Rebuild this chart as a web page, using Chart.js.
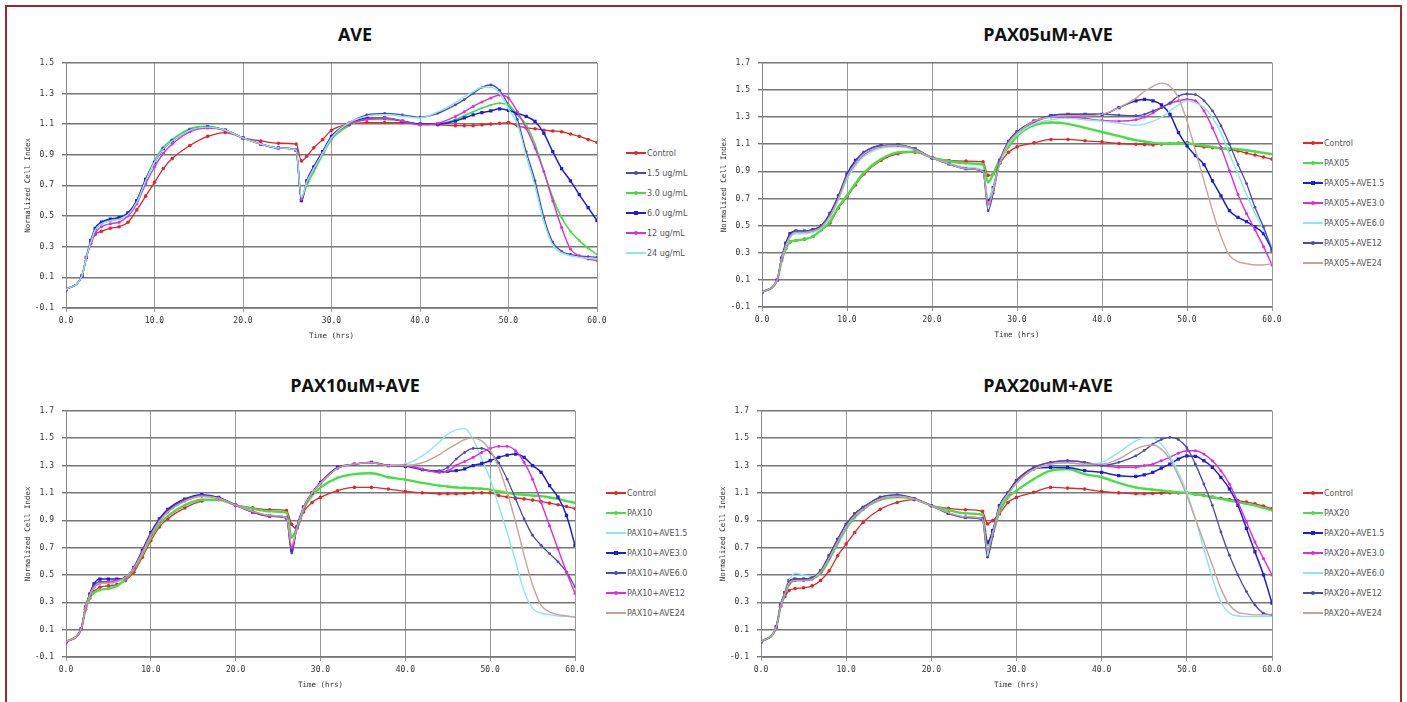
<!DOCTYPE html>
<html>
<head>
<meta charset="utf-8">
<title>Normalized Cell Index</title>
<script src="https://cdn.jsdelivr.net/npm/chart.js@4.4.0/dist/chart.umd.min.js"></script>
<style>
  html, body { margin: 0; padding: 0; background: #fff; }
  body { width: 1407px; height: 702px; position: relative; overflow: hidden; font-family: "DejaVu Sans", sans-serif; }
  .frame { position: absolute; left: 5px; top: 5px; width: 1393px; height: 720px; border: 2px solid #9b2b2b; }
  .panel-title { position: absolute; transform: translate(-50%, -50%); font-family: "Open Sans", sans-serif; font-weight: 700; font-size: 18px; color: #111; white-space: nowrap; }
  canvas { position: absolute; }
  .legend { position: absolute; font-size: 8px; color: #555; }
  .legend .row { height: 20px; display: flex; align-items: center; white-space: nowrap; }
  .legend .key { position: relative; width: 20px; height: 8px; margin-right: 1px; }
  .legend .key .ln { position: absolute; left: 0; right: 0; top: 3px; height: 1.5px; }
  .legend .key .pt { position: absolute; left: 8px; top: 2px; width: 4px; height: 4px; border-radius: 50%; }
</style>
</head>
<body>
<div class="frame"></div>

<div class="panel-title" style="left:355px; top:34px">AVE</div>
<div class="panel-title" style="left:1048px; top:34px">PAX05uM+AVE</div>
<div class="panel-title" style="left:355px; top:385px">PAX10uM+AVE</div>
<div class="panel-title" style="left:1048px; top:385px">PAX20uM+AVE</div>

<canvas id="chartAve"></canvas>
<canvas id="chartPax05"></canvas>
<canvas id="chartPax10"></canvas>
<canvas id="chartPax20"></canvas>

<div class="legend" id="legendAve"></div>
<div class="legend" id="legendPax05"></div>
<div class="legend" id="legendPax10"></div>
<div class="legend" id="legendPax20"></div>

<script>
// time points (hrs), shared by every series
const hours = [0, 1.8, 2.3, 2.8, 3.3, 4, 5, 6, 7, 8, 9, 10, 11, 12, 14, 16, 18, 20, 22, 24, 26,
  26.6, 27.2, 28, 29, 30, 32, 34, 36, 38, 40, 42, 44, 45, 46, 47, 48, 49, 50, 51, 52, 53, 54, 55, 56, 57, 58, 59, 60];

const xTicks = [0, 10, 20, 30, 40, 50, 60];

// ---- AVE ----
const aveLabels = ["Control", "1.5 ug/mL", "3.0 ug/mL", "6.0 ug/mL", "12 ug/mL", "24 ug/mL"];
const aveControl = [0.02, 0.11, 0.23, 0.32, 0.38,
  0.40, 0.42, 0.43, 0.46, 0.54, 0.63, 0.72, 0.81, 0.875,
  0.96, 1.02, 1.045, 1.01, 0.99, 0.975, 0.97,
  0.86, 0.89, 0.945, 1.0, 1.06,
  1.10, 1.11, 1.11, 1.11, 1.10, 1.095, 1.09,
  1.09, 1.09, 1.095, 1.10, 1.105, 1.11, 1.09, 1.075, 1.07, 1.06, 1.055, 1.05, 1.035, 1.02, 1.0, 0.98];
const ave15 = [0.02, 0.11, 0.23, 0.33, 0.41,
  0.45, 0.47, 0.485, 0.52, 0.60, 0.74, 0.85, 0.94, 0.99,
  1.06, 1.085, 1.06, 1.01, 0.97, 0.945, 0.93,
  0.60, 0.72, 0.82, 0.92, 1.02,
  1.11, 1.16, 1.17, 1.16, 1.145, 1.17, 1.225,
  1.26, 1.30, 1.34, 1.355, 1.32, 1.225, 1.13, 0.92, 0.73, 0.49, 0.33, 0.27, 0.25, 0.24, 0.235, 0.23];
const ave30 = [0.02, 0.11, 0.23, 0.33, 0.41,
  0.45, 0.47, 0.48, 0.51, 0.60, 0.74, 0.86, 0.95, 1.00,
  1.07, 1.085, 1.06, 1.01, 0.97, 0.945, 0.93,
  0.62, 0.70, 0.79, 0.90, 1.00,
  1.09, 1.13, 1.13, 1.12, 1.10, 1.10, 1.13,
  1.155, 1.18, 1.205, 1.225, 1.236, 1.225, 1.16, 1.095, 0.966, 0.79, 0.62, 0.49, 0.40, 0.34, 0.29, 0.25];
const ave60 = [0.02, 0.11, 0.23, 0.34, 0.42,
  0.46, 0.48, 0.49, 0.52, 0.60, 0.74, 0.85, 0.94, 0.99,
  1.06, 1.08, 1.06, 1.01, 0.97, 0.945, 0.93,
  0.60, 0.73, 0.82, 0.92, 1.02,
  1.10, 1.14, 1.14, 1.12, 1.10, 1.10, 1.12,
  1.14, 1.16, 1.175, 1.186, 1.20, 1.19, 1.17, 1.15, 1.117, 1.04, 0.92, 0.81, 0.73, 0.64, 0.555, 0.47];
const ave12 = [0.02, 0.11, 0.23, 0.32, 0.39,
  0.43, 0.45, 0.46, 0.50, 0.58, 0.71, 0.82, 0.91, 0.97,
  1.05, 1.075, 1.06, 1.01, 0.97, 0.945, 0.93,
  0.61, 0.72, 0.81, 0.91, 1.01,
  1.10, 1.13, 1.14, 1.12, 1.095, 1.105, 1.15,
  1.18, 1.215, 1.245, 1.27, 1.29, 1.27, 1.18, 1.074, 0.944, 0.79, 0.60, 0.425, 0.285, 0.24, 0.22, 0.21];
const ave24 = [0.02, 0.11, 0.23, 0.33, 0.41,
  0.45, 0.47, 0.48, 0.51, 0.59, 0.73, 0.85, 0.94, 0.99,
  1.06, 1.08, 1.06, 1.01, 0.97, 0.945, 0.93,
  0.62, 0.72, 0.81, 0.91, 1.01,
  1.11, 1.15, 1.16, 1.15, 1.14, 1.18, 1.24,
  1.28, 1.31, 1.34, 1.34, 1.30, 1.20, 1.10, 0.89, 0.69, 0.46, 0.31, 0.26, 0.24, 0.23, 0.225, 0.22];

// ---- PAX05uM+AVE ----
const pax05Labels = ["Control", "PAX05", "PAX05+AVE1.5", "PAX05+AVE3.0", "PAX05+AVE6.0", "PAX05+AVE12", "PAX05+AVE24"];
const p05Control = [0.01, 0.10, 0.24, 0.33, 0.38,
  0.39, 0.40, 0.42, 0.47, 0.52, 0.63, 0.71, 0.80, 0.88,
  0.98, 1.03, 1.04, 1.00, 0.98, 0.975, 0.97,
  0.87, 0.88, 0.96, 1.04, 1.08,
  1.11, 1.135, 1.135, 1.125, 1.117, 1.105, 1.10,
  1.097, 1.095, 1.10, 1.105, 1.108, 1.112, 1.09, 1.08, 1.075, 1.07, 1.06, 1.05, 1.035, 1.02, 1.005, 0.99];
const p05 = [0.01, 0.10, 0.24, 0.33, 0.38,
  0.39, 0.40, 0.42, 0.47, 0.53, 0.64, 0.72, 0.81, 0.89,
  0.99, 1.04, 1.045, 1.00, 0.975, 0.96, 0.95,
  0.82, 0.88, 0.99, 1.08, 1.16,
  1.24, 1.26, 1.25, 1.22, 1.19, 1.16, 1.13,
  1.12, 1.11, 1.105, 1.105, 1.105, 1.105, 1.10, 1.09, 1.08, 1.07, 1.067, 1.063, 1.055, 1.046, 1.036, 1.027];
const p05Ave15 = [0.01, 0.10, 0.26, 0.37, 0.44,
  0.46, 0.46, 0.47, 0.50, 0.59, 0.72, 0.88, 0.98, 1.04,
  1.09, 1.095, 1.065, 1.00, 0.955, 0.92, 0.90,
  0.69, 0.78, 0.98, 1.12, 1.19,
  1.27, 1.31, 1.32, 1.32, 1.32, 1.37, 1.42,
  1.43, 1.42, 1.39, 1.32, 1.185, 1.088, 1.015, 0.95, 0.83, 0.72, 0.61, 0.56, 0.53, 0.49, 0.44, 0.32];
const p05Ave30 = [0.01, 0.10, 0.25, 0.35, 0.42,
  0.45, 0.45, 0.46, 0.49, 0.57, 0.70, 0.85, 0.95, 1.02,
  1.08, 1.09, 1.06, 1.00, 0.955, 0.92, 0.90,
  0.66, 0.76, 0.97, 1.11, 1.18,
  1.26, 1.30, 1.30, 1.29, 1.275, 1.27, 1.28,
  1.30, 1.33, 1.37, 1.40, 1.42, 1.43, 1.42, 1.345, 1.22, 1.075, 0.905, 0.73, 0.59, 0.47, 0.345, 0.21];
const p05Ave60 = [0.01, 0.10, 0.25, 0.34, 0.41,
  0.44, 0.44, 0.45, 0.48, 0.56, 0.69, 0.84, 0.94, 1.01,
  1.07, 1.08, 1.06, 1.00, 0.96, 0.93, 0.91,
  0.70, 0.78, 0.96, 1.10, 1.17,
  1.25, 1.28, 1.29, 1.28, 1.27, 1.255, 1.24,
  1.25, 1.27, 1.30, 1.345, 1.39, 1.42, 1.405, 1.37, 1.295, 1.185, 1.027, 0.88, 0.73, 0.59, 0.47, 0.345];
const p05Ave12 = [0.01, 0.10, 0.26, 0.36, 0.43,
  0.46, 0.46, 0.47, 0.50, 0.59, 0.72, 0.87, 0.97, 1.04,
  1.09, 1.09, 1.065, 1.00, 0.955, 0.92, 0.90,
  0.61, 0.74, 0.98, 1.12, 1.19,
  1.27, 1.31, 1.32, 1.32, 1.32, 1.315, 1.31,
  1.32, 1.345, 1.37, 1.405, 1.455, 1.47, 1.465, 1.42, 1.345, 1.235, 1.10, 0.95, 0.81, 0.635, 0.49, 0.32];
const p05Ave24 = [0.01, 0.10, 0.25, 0.35, 0.42,
  0.45, 0.45, 0.46, 0.49, 0.57, 0.70, 0.86, 0.96, 1.03,
  1.08, 1.09, 1.06, 1.00, 0.955, 0.92, 0.90,
  0.65, 0.76, 0.97, 1.11, 1.18,
  1.27, 1.30, 1.31, 1.31, 1.32, 1.37, 1.44,
  1.49, 1.527, 1.55, 1.527, 1.44, 1.27, 1.05, 0.83, 0.61, 0.42, 0.28, 0.235, 0.22, 0.21, 0.21, 0.22];

// ---- PAX10uM+AVE ----
const pax10Labels = ["Control", "PAX10", "PAX10+AVE1.5", "PAX10+AVE3.0", "PAX10+AVE6.0", "PAX10+AVE12", "PAX10+AVE24"];
const p10Control = [0.01, 0.107, 0.25, 0.33, 0.38,
  0.41, 0.42, 0.43, 0.46, 0.52, 0.63, 0.75, 0.85, 0.91,
  0.99, 1.04, 1.05, 1.01, 0.99, 0.977, 0.97,
  0.87, 0.84, 0.96, 1.03, 1.067,
  1.116, 1.14, 1.14, 1.128, 1.11, 1.10, 1.093,
  1.093, 1.093, 1.095, 1.10, 1.10, 1.10, 1.08, 1.07, 1.063, 1.056, 1.047, 1.037, 1.025, 1.013, 1.0, 0.984];
const p10 = [0.01, 0.107, 0.25, 0.33, 0.37,
  0.39, 0.40, 0.42, 0.47, 0.54, 0.65, 0.77, 0.87, 0.93,
  1.01, 1.05, 1.05, 1.01, 0.985, 0.965, 0.955,
  0.775, 0.84, 0.98, 1.08, 1.14,
  1.21, 1.237, 1.243, 1.214, 1.197, 1.173, 1.153,
  1.146, 1.14, 1.137, 1.134, 1.13, 1.124, 1.11, 1.10, 1.092, 1.085, 1.08, 1.076, 1.066, 1.056, 1.04, 1.027];
const p10Ave15 = [0.01, 0.107, 0.265, 0.36, 0.41,
  0.44, 0.44, 0.45, 0.48, 0.55, 0.67, 0.80, 0.90, 0.97,
  1.05, 1.08, 1.065, 1.01, 0.965, 0.935, 0.92,
  0.70, 0.84, 0.99, 1.10, 1.17,
  1.28, 1.31, 1.32, 1.30, 1.31, 1.37, 1.47,
  1.53, 1.56, 1.57, 1.49, 1.35, 1.20, 1.008, 0.81, 0.60, 0.38, 0.256, 0.22, 0.21, 0.20, 0.197, 0.195];
const p10Ave30 = [0.01, 0.107, 0.265, 0.36, 0.435,
  0.47, 0.47, 0.47, 0.48, 0.556, 0.68, 0.81, 0.91, 0.98,
  1.055, 1.087, 1.067, 1.01, 0.96, 0.93, 0.917,
  0.68, 0.85, 0.995, 1.10, 1.177,
  1.286, 1.31, 1.323, 1.30, 1.294, 1.27, 1.255,
  1.257, 1.262, 1.275, 1.30, 1.315, 1.335, 1.36, 1.376, 1.384, 1.36, 1.30, 1.25, 1.153, 1.068, 0.935, 0.717];
const p10Ave60 = [0.01, 0.107, 0.26, 0.36, 0.42,
  0.45, 0.45, 0.46, 0.48, 0.55, 0.67, 0.80, 0.90, 0.97,
  1.05, 1.08, 1.065, 1.01, 0.96, 0.93, 0.915,
  0.66, 0.84, 0.99, 1.10, 1.17,
  1.28, 1.31, 1.32, 1.30, 1.30, 1.27, 1.262,
  1.287, 1.347, 1.396, 1.425, 1.425, 1.396, 1.32, 1.20, 1.056, 0.91, 0.79, 0.717, 0.656, 0.596, 0.52, 0.414];
const p10Ave12 = [0.01, 0.107, 0.26, 0.35, 0.41,
  0.44, 0.45, 0.46, 0.48, 0.55, 0.67, 0.79, 0.89, 0.96,
  1.04, 1.075, 1.06, 1.01, 0.965, 0.935, 0.92,
  0.70, 0.84, 0.99, 1.10, 1.17,
  1.28, 1.31, 1.32, 1.30, 1.30, 1.275, 1.25,
  1.26, 1.30, 1.33, 1.36, 1.396, 1.425, 1.44, 1.44, 1.408, 1.323, 1.20, 1.032, 0.86, 0.69, 0.52, 0.365];
const p10Ave24 = [0.01, 0.107, 0.26, 0.35, 0.41,
  0.44, 0.44, 0.45, 0.48, 0.55, 0.66, 0.79, 0.89, 0.96,
  1.04, 1.075, 1.06, 1.01, 0.965, 0.935, 0.92,
  0.72, 0.84, 0.99, 1.10, 1.17,
  1.28, 1.31, 1.32, 1.30, 1.30, 1.32, 1.38,
  1.42, 1.456, 1.49, 1.50, 1.48, 1.41, 1.287, 1.105, 0.887, 0.644, 0.426, 0.28, 0.23, 0.21, 0.20, 0.19];

// ---- PAX20uM+AVE ----
const pax20Labels = ["Control", "PAX20", "PAX20+AVE1.5", "PAX20+AVE3.0", "PAX20+AVE6.0", "PAX20+AVE12", "PAX20+AVE24"];
const p20Control = [0.01, 0.12, 0.27, 0.34, 0.386,
  0.40, 0.406, 0.42, 0.46, 0.53, 0.64, 0.727, 0.81, 0.885,
  0.98, 1.03, 1.05, 1.007, 0.987, 0.977, 0.965,
  0.873, 0.897, 0.945, 1.03, 1.067,
  1.104, 1.14, 1.135, 1.128, 1.11, 1.10, 1.093,
  1.093, 1.095, 1.097, 1.10, 1.10, 1.10, 1.09, 1.08, 1.07, 1.06, 1.052, 1.044, 1.032, 1.02, 1.003, 0.984];
const p20 = [0.01, 0.12, 0.27, 0.36, 0.43,
  0.46, 0.46, 0.47, 0.51, 0.61, 0.73, 0.84, 0.92, 0.98,
  1.05, 1.07, 1.055, 1.007, 0.975, 0.95, 0.94,
  0.72, 0.80, 0.96, 1.067, 1.116,
  1.20, 1.262, 1.275, 1.237, 1.214, 1.173, 1.14,
  1.13, 1.124, 1.117, 1.11, 1.105, 1.10, 1.09, 1.08, 1.068, 1.056, 1.044, 1.032, 1.02, 1.008, 0.99, 0.972];
const p20Ave15 = [0.01, 0.12, 0.28, 0.37, 0.46,
  0.47, 0.47, 0.48, 0.53, 0.64, 0.76, 0.87, 0.946, 0.994,
  1.067, 1.08, 1.055, 1.007, 0.95, 0.92, 0.91,
  0.74, 0.824, 1.006, 1.10, 1.19,
  1.275, 1.286, 1.286, 1.262, 1.25, 1.226, 1.22,
  1.232, 1.25, 1.28, 1.31, 1.347, 1.37, 1.367, 1.335, 1.287, 1.214, 1.13, 1.008, 0.84, 0.668, 0.50, 0.293];
const p20Ave30 = [0.01, 0.12, 0.27, 0.36, 0.44,
  0.46, 0.46, 0.47, 0.52, 0.62, 0.74, 0.85, 0.93, 0.98,
  1.055, 1.075, 1.055, 1.007, 0.955, 0.925, 0.91,
  0.68, 0.80, 0.99, 1.09, 1.18,
  1.28, 1.323, 1.335, 1.323, 1.30, 1.287, 1.287,
  1.30, 1.31, 1.335, 1.36, 1.39, 1.408, 1.408, 1.384, 1.335, 1.262, 1.165, 1.032, 0.887, 0.74, 0.62, 0.50];
const p20Ave60 = [0.01, 0.12, 0.28, 0.374, 0.46,
  0.513, 0.50, 0.49, 0.53, 0.63, 0.75, 0.86, 0.94, 0.99,
  1.06, 1.075, 1.055, 1.007, 0.95, 0.92, 0.905,
  0.66, 0.80, 0.99, 1.09, 1.17,
  1.27, 1.31, 1.32, 1.31, 1.323, 1.396, 1.48,
  1.50, 1.50, 1.456, 1.37, 1.25, 1.105, 0.91, 0.69, 0.475, 0.30, 0.22, 0.20, 0.197, 0.195, 0.195, 0.195];
const p20Ave12 = [0.01, 0.12, 0.28, 0.37, 0.45,
  0.47, 0.47, 0.48, 0.53, 0.64, 0.76, 0.87, 0.946, 0.994,
  1.067, 1.087, 1.06, 1.007, 0.95, 0.92, 0.905,
  0.63, 0.78, 1.0, 1.10, 1.19,
  1.286, 1.323, 1.335, 1.323, 1.30, 1.323, 1.37,
  1.41, 1.456, 1.49, 1.505, 1.49, 1.43, 1.31, 1.165, 1.008, 0.814, 0.644, 0.50, 0.378, 0.28, 0.22, 0.208];
const p20Ave24 = [0.01, 0.12, 0.27, 0.36, 0.44,
  0.46, 0.46, 0.47, 0.52, 0.62, 0.74, 0.85, 0.93, 0.98,
  1.055, 1.075, 1.055, 1.007, 0.955, 0.925, 0.91,
  0.68, 0.80, 0.99, 1.09, 1.17,
  1.27, 1.31, 1.32, 1.31, 1.31, 1.347, 1.42,
  1.444, 1.45, 1.42, 1.347, 1.226, 1.08, 0.91, 0.74, 0.57, 0.40, 0.28, 0.227, 0.215, 0.208, 0.208, 0.208];

// line looks, Excel-ish
const looks = {
  red:     { color: "#e3262b", width: 1.3, radius: 1.8, shape: "circle" },
  slate:   { color: "#4b4bb0", width: 1.3, radius: 1.4, shape: "circle" },
  green:   { color: "#3ee23e", width: 1.6, radius: 1.2, shape: "circle" },
  greenPx: { color: "#45e045", width: 2.4, radius: 1.2, shape: "circle" },
  blue:    { color: "#1c1ce0", width: 1.5, radius: 2.3, shape: "rect" },
  magenta: { color: "#e02be0", width: 1.4, radius: 1.5, shape: "circle" },
  cyan:    { color: "#8ae8ea", width: 1.4, radius: 0, shape: "circle" },
  brown:   { color: "#c8a39a", width: 1.4, radius: 0, shape: "circle" },
};

function toDataset(label, values, look, i) {
  return {
    label,
    data: hours.map((t, k) => ({ x: t, y: values[k] })),
    borderColor: look.color,
    backgroundColor: look.color,
    borderWidth: look.width,
    pointRadius: look.radius,
    pointStyle: look.shape,
    pointBorderWidth: 0,
    cubicInterpolationMode: "monotone",
    order: -i, // later series on top, like Excel
  };
}

function makeLegend(id, datasets) {
  const box = document.getElementById(id);
  datasets.forEach((d) => {
    const row = document.createElement("div");
    row.className = "row";
    const key = document.createElement("span");
    key.className = "key";
    const ln = document.createElement("span");
    ln.className = "ln";
    ln.style.background = d.borderColor;
    key.appendChild(ln);
    if (d.pointRadius > 0) {
      const pt = document.createElement("span");
      pt.className = "pt";
      pt.style.background = d.borderColor;
      if (d.pointStyle === "rect") pt.style.borderRadius = "0";
      key.appendChild(pt);
    }
    const txt = document.createElement("span");
    txt.textContent = d.label;
    row.appendChild(key);
    row.appendChild(txt);
    box.appendChild(row);
  });
}

const tickFont = { family: "DejaVu Sans Mono", size: 8 };
const titleFont = { family: "DejaVu Sans Mono", size: 7.5 };

// box = where the canvas sits, plot = the wanted plot rectangle
function drawPanel(canvasId, legendId, legendPos, box, plot, yMax, labels, series, lookNames) {
  const canvas = document.getElementById(canvasId);
  canvas.width = box.w;
  canvas.height = box.h;
  canvas.style.left = box.x + "px";
  canvas.style.top = box.y + "px";

  const datasets = series.map((vals, i) => toDataset(labels[i], vals, looks[lookNames[i]], i));
  const yAxisWidth = plot.x1 - box.x;
  const xAxisHeight = box.y + box.h - plot.y2;

  new Chart(canvas, {
    type: "line",
    data: { datasets },
    options: {
      responsive: false,
      animation: false,
      events: [],
      layout: {
        padding: { left: 0, top: plot.y1 - box.y, right: box.x + box.w - plot.x2, bottom: 0 },
      },
      plugins: { legend: { display: false }, tooltip: { enabled: false } },
      scales: {
        x: {
          type: "linear",
          min: 0,
          max: 60,
          afterBuildTicks: (s) => { s.ticks = xTicks.map((v) => ({ value: v })); },
          afterFit: (s) => { s.height = xAxisHeight; },
          ticks: { font: tickFont, color: "#333", padding: 4, maxRotation: 0, callback: (v) => v.toFixed(1) },
          grid: { color: "#9a9a9a", lineWidth: 1, tickLength: 4 },
          border: { color: "#8a8a8a" },
          title: { display: true, text: "Time (hrs)", font: titleFont, color: "#333", padding: { top: 0, bottom: 9.5 } },
        },
        y: {
          min: -0.1,
          max: yMax,
          ticks: { stepSize: 0.2, font: tickFont, color: "#333", padding: 8, callback: (v) => v.toFixed(1) },
          afterFit: (s) => { s.width = yAxisWidth; },
          grid: { color: "#777", lineWidth: 1.4, tickLength: 4 },
          border: { color: "#8a8a8a" },
          title: { display: true, text: "Normalized Cell Index", font: titleFont, color: "#333", padding: { top: 13.5, bottom: 0 } },
        },
      },
    },
  });

  const lg = document.getElementById(legendId);
  lg.style.left = legendPos.x + "px";
  lg.style.top = legendPos.y + "px";
  makeLegend(legendId, datasets);
}

drawPanel("chartAve", "legendAve", { x: 626, y: 143 },
  { x: 10, y: 50, w: 612, h: 300 }, { x1: 66, y1: 62, x2: 597, y2: 308 }, 1.5,
  aveLabels, [aveControl, ave15, ave30, ave60, ave12, ave24],
  ["red", "slate", "green", "blue", "magenta", "cyan"]);

drawPanel("chartPax05", "legendPax05", { x: 1303, y: 133 },
  { x: 706, y: 50, w: 590, h: 299 }, { x1: 762, y1: 62, x2: 1272, y2: 307 }, 1.7,
  pax05Labels, [p05Control, p05, p05Ave15, p05Ave30, p05Ave60, p05Ave12, p05Ave24],
  ["red", "greenPx", "blue", "magenta", "cyan", "slate", "brown"]);

drawPanel("chartPax10", "legendPax10", { x: 606, y: 483 },
  { x: 10, y: 398, w: 590, h: 301 }, { x1: 66, y1: 410, x2: 575, y2: 657 }, 1.7,
  pax10Labels, [p10Control, p10, p10Ave15, p10Ave30, p10Ave60, p10Ave12, p10Ave24],
  ["red", "greenPx", "cyan", "blue", "slate", "magenta", "brown"]);

drawPanel("chartPax20", "legendPax20", { x: 1303, y: 483 },
  { x: 705, y: 398, w: 590, h: 301 }, { x1: 761, y1: 410, x2: 1272, y2: 657 }, 1.7,
  pax20Labels, [p20Control, p20, p20Ave15, p20Ave30, p20Ave60, p20Ave12, p20Ave24],
  ["red", "greenPx", "blue", "magenta", "cyan", "slate", "brown"]);
</script>
</body>
</html>
